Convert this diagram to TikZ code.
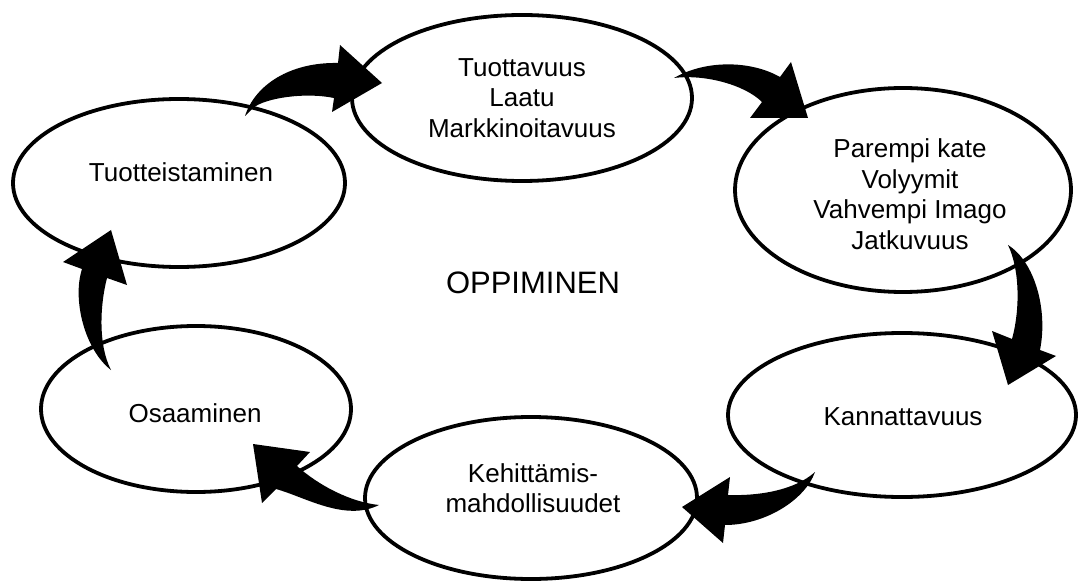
\documentclass[tikz,border=0pt]{standalone}
\usepackage{fontspec}
\setmainfont{Liberation Sans}
\usetikzlibrary{shapes.geometric}
\begin{document}
\begin{tikzpicture}[x=1pt,y=-1pt,
  oval/.style={draw, line width=3.8pt, ellipse, inner sep=0pt, fill=white},
  lbl/.style={align=center, font=\fontsize{26}{30.5}\selectfont, inner sep=0pt},
  biglbl/.style={font=\fontsize{31}{36}\selectfont, inner sep=0pt},
  blockarrow/.style={fill=black, draw=none}]
\useasboundingbox[fill=white] (0,0) rectangle (1078,585);
% ellipses
\node[oval, minimum width=340pt, minimum height=166pt] (top) at (522,98) {};
\node[oval, minimum width=332pt, minimum height=168pt] (tuot) at (179,183) {};
\node[oval, minimum width=336pt, minimum height=204pt] (right) at (903,190) {};
\node[oval, minimum width=348pt, minimum height=164pt] (kann) at (902,415) {};
\node[oval, minimum width=332pt, minimum height=162pt] (kehi) at (531,498) {};
\node[oval, minimum width=310pt, minimum height=166pt] (osaa) at (196,409) {};
% labels
\node[lbl] (ttop) at (522,98) {Tuottavuus\\Laatu\\Markkinoitavuus};
\node[lbl] (ttuot) at (181,172) {Tuotteistaminen};
\node[lbl] (tright) at (910,194) {Parempi kate\\Volyymit\\Vahvempi Imago\\Jatkuvuus};
\node[lbl] (tkann) at (903,417) {Kannattavuus};
\node[lbl] (tkehi) at (533,488) {Kehittämis-\\mahdollisuudet};
\node[lbl] (tosaa) at (195,413) {Osaaminen};
\node[biglbl] (center) at (533,283) {OPPIMINEN};
% curved block arrows
% Tuotteistaminen -> top
\fill[blockarrow] (245,116) .. controls (255,85) and (290,62) .. (338,63)
  -- (340,45) -- (382,83) -- (332,112) -- (334,98)
  .. controls (305,92) and (265,98) .. (253,108) -- cycle;
% top -> right
\fill[blockarrow] (674,78) .. controls (705,60) and (750,60) .. (780,77)
  -- (791,62) -- (808,118) -- (750,118) -- (762,102)
  .. controls (745,85) and (705,74) .. (674,78) -- cycle;
% right -> Kannattavuus
\fill[blockarrow] (1008,245) .. controls (1035,262) and (1048,310) .. (1040,350)
  -- (1056,356) -- (1008,385) -- (992,331) -- (1012,339)
  .. controls (1020,310) and (1020,270) .. (1008,245) -- cycle;
% Kannattavuus -> Kehittamis
\fill[blockarrow] (815,472) .. controls (805,500) and (765,525) .. (725,525)
  -- (723,543) -- (682,507) -- (730,477) -- (728,495)
  .. controls (760,496) and (795,490) .. (815,472) -- cycle;
% Kehittamis -> Osaaminen
\fill[blockarrow] (379,505) .. controls (350,502) and (318,485) .. (297,466)
  -- (310,452) -- (253,444) -- (262,503) -- (276,489)
  .. controls (305,497) and (345,522) .. (379,505) -- cycle;
% Osaaminen -> Tuotteistaminen
\fill[blockarrow] (111,370) .. controls (85,350) and (72,300) .. (82,269)
  -- (63,262) -- (111,230) -- (127,285) -- (107,278)
  .. controls (100,305) and (98,345) .. (111,370) -- cycle;
\end{tikzpicture}
\end{document}
